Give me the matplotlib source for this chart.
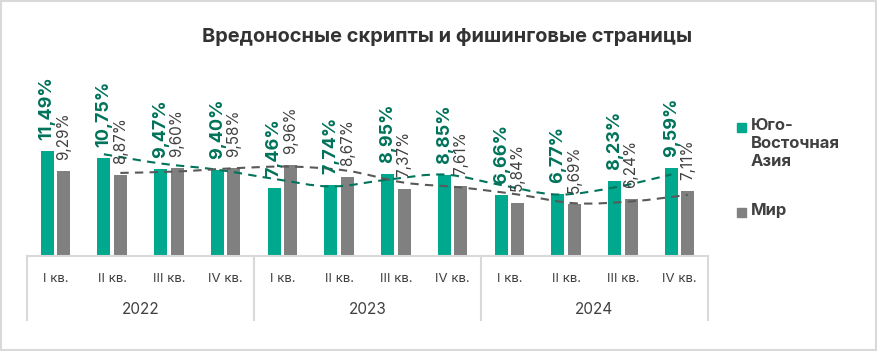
import numpy as np
import matplotlib
matplotlib.use("Agg")
from matplotlib import pyplot as plt
from matplotlib.path import Path
from matplotlib.patches import PathPatch, Rectangle
from matplotlib.transforms import blended_transform_factory

plt.rcParams["font.family"] = ["Inter", "DejaVu Sans"]

quarters = ["I кв.", "II кв.", "III кв.", "IV кв."] * 3
years = ["2022", "2023", "2024"]
sea = [11.49, 10.75, 9.47, 9.40, 7.46, 7.74, 8.95, 8.85, 6.66, 6.77, 8.23, 9.59]
world = [9.29, 8.87, 9.60, 9.58, 9.96, 8.67, 7.37, 7.61, 5.84, 5.69, 6.24, 7.11]
names = ["Юго-\nВосточная\nАзия", "Мир"]

green, grey = "#00a88e", "#808080"
green_dark, grey_dark = "#00735a", "#595959"
text_col = "#404040"

fig = plt.figure(figsize=(8.78, 3.51), dpi=100)
fig.patches.append(Rectangle((0.001, 0.003), 0.997, 0.994, transform=fig.transFigure,
                             fill=False, ec="#d9d9d9", lw=1.5))
ax = fig.add_axes([27/878, 95/351, 681/878, 183/351])

x = np.arange(len(sea))
d, w = 0.145, 0.23
ax.bar(x - d, sea, w, color=green)
ax.bar(x + d, world, w, color=grey)

for xi, v in zip(x, sea):
    ax.annotate(f"{v:.2f}%".replace(".", ","), (xi - d, v), xytext=(0, 8),
                textcoords="offset points", rotation=90, ha="center", va="bottom",
                fontsize=13, fontweight="bold", color=green_dark)
for xi, v in zip(x, world):
    ax.annotate(f"{v:.2f}%".replace(".", ","), (xi + d, v), xytext=(0, 8),
                textcoords="offset points", rotation=90, ha="center", va="bottom",
                fontsize=11, color=text_col)

# 2-period moving average trend, smoothed like Excel
def smooth_path(px, py):
    pts = np.column_stack([px, py])
    verts = [pts[0]]
    codes = [Path.MOVETO]
    n = len(pts)
    for i in range(n - 1):
        p0 = pts[max(i - 1, 0)]
        p1, p2 = pts[i], pts[i + 1]
        p3 = pts[min(i + 2, n - 1)]
        verts += [p1 + (p2 - p0) / 6, p2 - (p3 - p1) / 6, p2]
        codes += [Path.CURVE4] * 3
    return Path(verts, codes)

for vals, off, col in [(sea, -d, green_dark), (world, d, grey_dark)]:
    v = np.array(vals)
    ma = (v[1:] + v[:-1]) / 2
    ax.add_patch(PathPatch(smooth_path(x[1:] + off, ma), fill=False, ec=col,
                           lw=1.5, ls=(0, (4, 3))))

ax.set_xlim(-0.5, 11.5)
ax.set_ylim(0, 20)
ax.axis("off")

# category axis box
tr = blended_transform_factory(ax.transData, ax.transAxes)
ax.plot([0, 1], [0, 0], color="#d9d9d9", lw=1.5, transform=ax.transAxes, clip_on=False)
bottom = -64 / 183
for xb in [-0.5, 3.5, 7.5, 11.5]:
    ax.plot([xb, xb], [0, bottom], color="#d9d9d9", lw=1.5, transform=tr, clip_on=False)
for xi, q in zip(x, quarters):
    ax.text(xi, -23 / 183, q, transform=tr, ha="center", va="center",
            fontsize=9.5, color=text_col)
for i, y in enumerate(years):
    ax.text(4 * i + 1.5, -54 / 183, y, transform=tr, ha="center", va="center",
            fontsize=11, color=text_col)

fig.text(447/878, 1 - 37/351, "Вредоносные скрипты и фишинговые страницы",
         ha="center", va="center", fontsize=14.4, fontweight="bold", color="#333333")

# legend, marker aligned with the first line of each label
for (col, name, yc) in [(green, names[0], 127), (grey, names[1], 212)]:
    fig.patches.append(Rectangle((737/878, 1 - (yc + 5)/351), 9/878, 9/351,
                                 transform=fig.transFigure, color=col))
    fig.text(751/878, 1 - (yc - 9)/351, name, ha="left", va="top", fontsize=12,
             fontweight="bold", color=text_col, linespacing=1.25)

plt.savefig("out.png", dpi=100)
